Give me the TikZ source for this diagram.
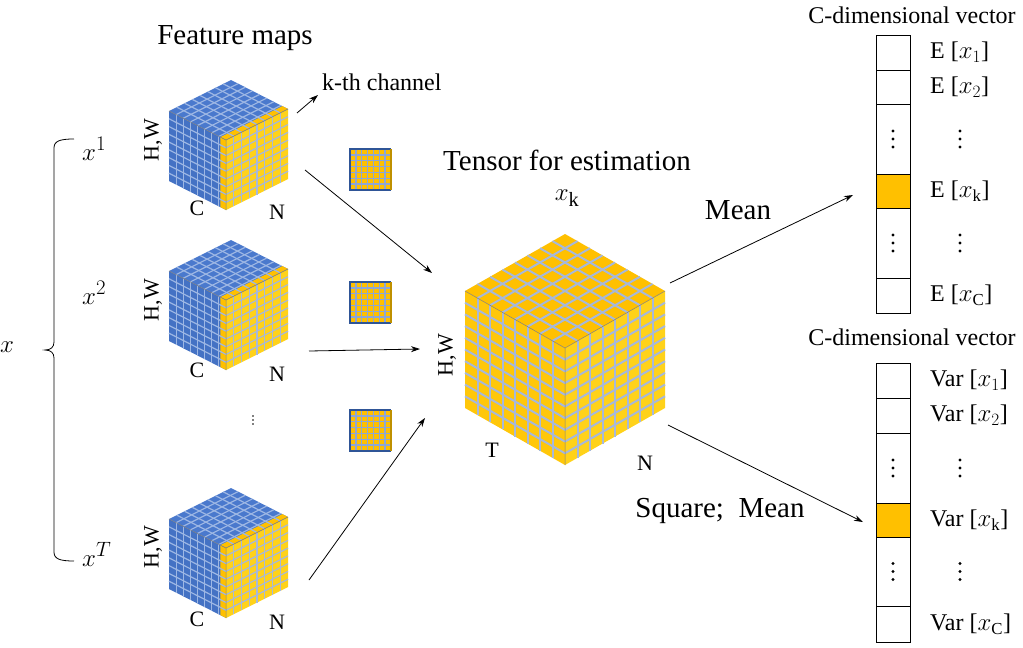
\documentclass[tikz,border=0pt]{standalone}
\usepackage{fontspec}
\setmainfont{Liberation Serif}
\usetikzlibrary{arrows.meta}
\definecolor{cblue}{HTML}{4472C4}
\definecolor{cbluetop}{HTML}{4A79CD}
\definecolor{bgrid}{HTML}{9DB7E4}
\definecolor{cyel}{HTML}{FFC000}
\definecolor{cyelR}{HTML}{FFD21A}
\definecolor{cyelL}{HTML}{FFC70A}
\definecolor{ygrid}{HTML}{A7B8DA}
\definecolor{sqgrid}{HTML}{8EA7D4}
\definecolor{dblue}{HTML}{2F5597}
\definecolor{dgold}{HTML}{BF9000}
\definecolor{edgegray}{HTML}{7F7F7F}
\tikzset{
  sgridb/.style={bgrid, line width=1.2pt},
  sgridy/.style={ygrid, line width=1.2pt},
  bgridy/.style={ygrid, line width=2pt},
  cubeedge/.style={edgegray, line width=0.5pt},
  arr/.style={-{Stealth[length=9pt,width=6pt]}, line width=0.8pt},
  txtA/.style={inner sep=0pt, font=\fontsize{29}{32}\selectfont},
  txtB/.style={inner sep=0pt, font=\fontsize{24}{27}\selectfont},
  txtC/.style={inner sep=0pt, font=\fontsize{22}{25}\selectfont},
  vcell/.style={draw, line width=0.8pt, minimum width=34pt, inner sep=0pt},
}
\newcommand{\dotcol}[2]{%
  \fill (#1,#2-8) circle (1.6pt) (#1,#2) circle (1.6pt) (#1,#2+8) circle (1.6pt);}
\newcommand{\smallcube}[2]{%
\begin{scope}[shift={(#1,#2)}]
  \begin{scope}[x={(-57pt,29pt)},y={(0pt,70pt)}]
    \fill[cblue] (0,0) -- (1,0) -- (1,1) -- (0,1) -- cycle;
    \fill[cyel] (0,0) -- (0.1,0) -- (0.1,1) -- (0,1) -- cycle;
    \foreach \i in {1,...,7} \draw[sgridb] (\i/8,0) -- (\i/8,1);
    \foreach \j in {1,...,8} \draw[sgridb] (0,\j/9) -- (1,\j/9);
  \end{scope}
  \begin{scope}[x={(62pt,31pt)},y={(0pt,70pt)}]
    \fill[cyelR] (0,0) -- (1,0) -- (1,1) -- (0,1) -- cycle;
    \foreach \i in {1,...,7} \draw[sgridy] (\i/8,0) -- (\i/8,1);
    \foreach \j in {1,...,8} \draw[sgridy] (0,\j/9) -- (1,\j/9);
  \end{scope}
  \begin{scope}[shift={(0,-70)},x={(-57pt,29pt)},y={(62pt,31pt)}]
    \fill[cbluetop] (0,0) -- (1,0) -- (1,1) -- (0,1) -- cycle;
    \fill[cyel] (0,0) -- (0.1,0) -- (0.1,1) -- (0,1) -- cycle;
    \foreach \i in {1,...,7} \draw[sgridb] (\i/8,0) -- (\i/8,1);
    \foreach \j in {1,...,7} \draw[sgridb] (0,\j/8) -- (1,\j/8);
  \end{scope}
  \draw[cubeedge] (0,0) -- (0,-70) -- (-57,-99) (0,-70) -- (62,-101);
\end{scope}}
\newcommand{\smallsquare}[2]{%
\begin{scope}[shift={(#1,#2)}]
  \fill[cyel] (0,0) -- (41,0) -- (41,41) -- (0,41) -- cycle;
  \foreach \i in {1,...,6} {
    \draw[sqgrid, line width=1.3pt] ({\i*41/7},0) -- ({\i*41/7},41);
    \draw[sqgrid, line width=1.3pt] (0,{\i*41/7}) -- (41,{\i*41/7});
  }
  \draw[dblue, line width=1.1pt] (41,41) -- (0,41) -- (0,0) -- (41,0);
  \draw[dgold, line width=1.1pt] (41,0) -- (41,41);
\end{scope}}
\begin{document}
\begin{tikzpicture}[x=1pt,y=-1pt]
\useasboundingbox (0,0) rectangle (1023,648);

% ---- left brace and x labels
\node[txtA] (xall) at (7,347) {$x$};
\draw[line width=0.8pt] (74,139) .. controls (60,139) and (54,141) .. (54,148) -- (54,342)
  .. controls (54,347) and (51,350) .. (45,350) .. controls (51,350) and (54,353) .. (54,358)
  -- (54,552) .. controls (54,559) and (60,561) .. (74,561);
\node[txtA, anchor=base west] (x1) at (82,160) {$x^1$};
\node[txtA, anchor=base west] (x2) at (82,304) {$x^2$};
\node[txtA, anchor=base west] (xT) at (82,566) {$x^T$};

% ---- feature maps
\node[txtA] (fm) at (235,38) {Feature maps};
\smallcube{226}{210}
\smallcube{226}{370}
\smallcube{226}{618}
\node[txtC, rotate=90] (hw1) at (153,140) {H,W};
\node[txtC, rotate=90] (hw2) at (153,300) {H,W};
\node[txtC, rotate=90] (hw3) at (153,547) {H,W};
\node[txtC] (c1) at (197,208) {C};
\node[txtC] (n1) at (277,212) {N};
\node[txtC] (c2) at (197,370) {C};
\node[txtC] (n2) at (277,374) {N};
\node[txtC] (c3) at (197,619) {C};
\node[txtC] (n3) at (277,622) {N};
\fill (253,416) circle (0.8pt) (253,420) circle (0.8pt) (253,424) circle (0.8pt);

% ---- k-th channel
\node[txtB, anchor=west] (kth) at (322,82) {k-th channel};
\coordinate (kthS) at (297,113);
\coordinate (kthE) at (318,95);
\draw[arr] (kthS) -- (kthE);

% ---- channel slices
\smallsquare{350}{149}
\smallsquare{350}{282}
\smallsquare{350}{410}

% ---- big cube
\begin{scope}[shift={(565,465)}]
  \begin{scope}[x={(-100pt,57pt)},y={(0pt,117pt)}]
    \fill[cyelL] (0,0) -- (1,0) -- (1,1) -- (0,1) -- cycle;
    \foreach \i in {1,...,7} \draw[bgridy] (\i/8,0) -- (\i/8,1);
    \foreach \j in {1,...,9} \draw[bgridy] (0,\j/10) -- (1,\j/10);
  \end{scope}
  \begin{scope}[x={(100pt,57pt)},y={(0pt,117pt)}]
    \fill[cyelR] (0,0) -- (1,0) -- (1,1) -- (0,1) -- cycle;
    \foreach \i in {1,...,7} \draw[bgridy] (\i/8,0) -- (\i/8,1);
    \foreach \j in {1,...,9} \draw[bgridy] (0,\j/10) -- (1,\j/10);
  \end{scope}
  \begin{scope}[shift={(0,-117)},x={(-100pt,57pt)},y={(100pt,57pt)}]
    \fill[cyel] (0,0) -- (1,0) -- (1,1) -- (0,1) -- cycle;
    \foreach \i in {1,...,7} \draw[bgridy] (\i/8,0) -- (\i/8,1);
    \foreach \j in {1,...,7} \draw[bgridy] (0,\j/8) -- (1,\j/8);
  \end{scope}
  \draw[cubeedge] (0,0) -- (0,-117) -- (-100,-174) (0,-117) -- (100,-174);
\end{scope}
\node[txtA] (tens) at (567,160) {Tensor for estimation};
\node[txtA] (xk) at (567,198) {$x_{\mathrm{k}}$};
\node[txtC, rotate=90] (hwb) at (447,355) {H,W};
\node[txtC] (tb) at (492,450) {T};
\node[txtC] (nb) at (645,463) {N};

% ---- arrows into the big cube
\coordinate (a1s) at (305,170); \coordinate (a1e) at (432,273);
\coordinate (a2s) at (309,351); \coordinate (a2e) at (420,349);
\coordinate (a3s) at (309,580); \coordinate (a3e) at (425,418);
\draw[arr] (a1s) -- (a1e);
\draw[arr] (a2s) -- (a2e);
\draw[arr] (a3s) -- (a3e);

% ---- mean vector
\node[txtB] (cdim1) at (912,15) {C-dimensional vector};
\node[vcell, minimum height=35pt] (e1) at (893,52.5) {};
\node[vcell, minimum height=34pt] (e2) at (893,87) {};
\node[vcell, minimum height=70pt] (ed1) at (893,139) {};
\node[vcell, minimum height=34pt, fill=cyel] (ek) at (893,191) {};
\node[vcell, minimum height=70pt] (ed2) at (893,243) {};
\node[vcell, minimum height=35pt] (ec) at (893,295.5) {};
\dotcol{893}{139}
\dotcol{893}{243}
\node[txtB, anchor=west] (le1) at (930,52.5) {E [$x_1$]};
\node[txtB, anchor=west] (le2) at (930,87) {E [$x_2$]};
\dotcol{960}{139}
\node[txtB, anchor=west] (lek) at (930,191) {E [$x_{\mathrm{k}}$]};
\dotcol{960}{243}
\node[txtB, anchor=west] (lec) at (930,295.5) {E [$x_{\mathrm{C}}$]};

% ---- variance vector
\node[txtB] (cdim2) at (912,337) {C-dimensional vector};
\node[vcell, minimum height=35pt] (v1) at (893,380.5) {};
\node[vcell, minimum height=35pt] (v2) at (893,415.5) {};
\node[vcell, minimum height=70pt] (vd1) at (893,468) {};
\node[vcell, minimum height=34pt, fill=cyel] (vk) at (893,520) {};
\node[vcell, minimum height=69pt] (vd2) at (893,571.5) {};
\node[vcell, minimum height=36pt] (vc) at (893,624) {};
\dotcol{893}{468}
\dotcol{893}{571.5}
\node[txtB, anchor=west] (lv1) at (930,380.5) {Var [$x_1$]};
\node[txtB, anchor=west] (lv2) at (930,415.5) {Var [$x_2$]};
\dotcol{960}{468}
\node[txtB, anchor=west] (lvk) at (930,520) {Var [$x_{\mathrm{k}}$]};
\dotcol{960}{571.5}
\node[txtB, anchor=west] (lvc) at (930,624) {Var [$x_{\mathrm{C}}$]};

% ---- output arrows
\coordinate (ms) at (670,283); \coordinate (me) at (853,195);
\coordinate (ss) at (668,425); \coordinate (se) at (863,522);
\draw[arr] (ms) -- (me);
\draw[arr] (ss) -- (se);
\node[txtA] (mean) at (738,210) {Mean};
\node[txtA] (sqm) at (720,511) {Square;\ \ Mean};
\end{tikzpicture}
\end{document}
